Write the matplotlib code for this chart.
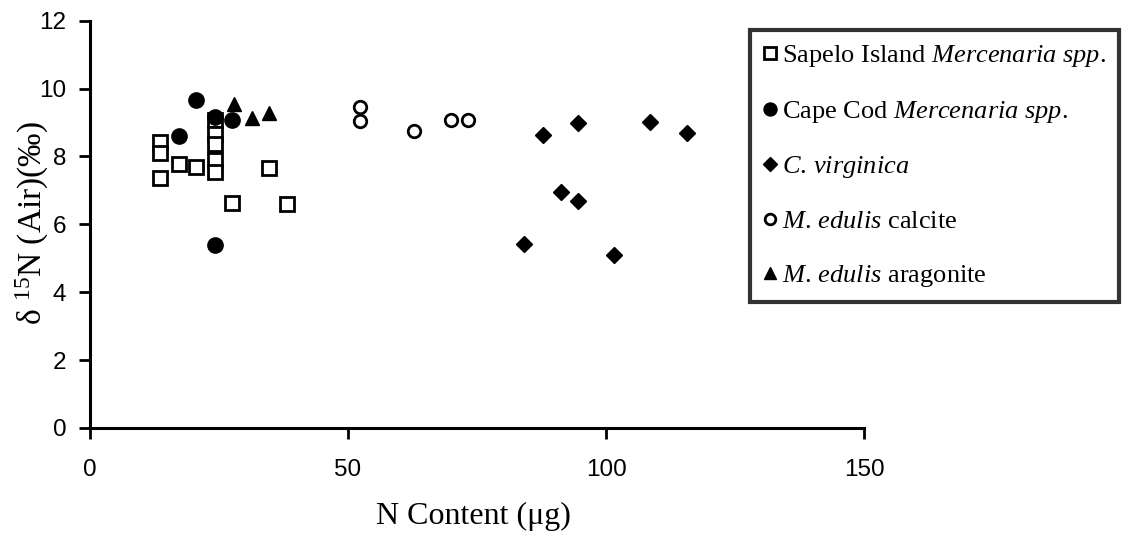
import matplotlib
matplotlib.use("Agg")
import matplotlib.pyplot as plt

plt.rcParams['mathtext.fontset'] = 'custom'
plt.rcParams['mathtext.rm'] = 'Liberation Serif'
plt.rcParams['mathtext.it'] = 'Liberation Serif:italic'

# Sapelo Island Mercenaria spp.
sapelo_x = [13.6, 13.6, 13.6, 17.2, 20.5, 24.2, 24.2, 24.2, 24.2, 24.2, 27.5, 34.7, 38.1]
sapelo_y = [8.43, 8.11, 7.36, 7.78, 7.68, 9.08, 8.67, 8.36, 7.89, 7.55, 6.63, 7.67, 6.61]
# Cape Cod Mercenaria spp.
capecod_x = [20.5, 17.2, 24.2, 27.5, 24.2]
capecod_y = [9.67, 8.60, 9.16, 9.08, 5.39]
# C. virginica
virg_x = [87.7, 94.6, 108.6, 115.7, 91.2, 94.6, 84.1, 101.6]
virg_y = [8.64, 9.00, 9.02, 8.70, 6.95, 6.68, 5.41, 5.11]
# M. edulis calcite
calc_x = [52.4, 52.4, 62.8, 69.9, 73.2]
calc_y = [9.47, 9.04, 8.75, 9.08, 9.08]
# M. edulis aragonite
arag_x = [27.9, 31.3, 34.7]
arag_y = [9.55, 9.14, 9.28]

labels = [
    r'Sapelo Island $\mathit{Mercenaria}$ $\mathit{spp.}$',
    r'Cape Cod $\mathit{Mercenaria}$ $\mathit{spp.}$',
    r'$\mathit{C.\,virginica}$',
    r'$\mathit{M.\,edulis}$ calcite',
    r'$\mathit{M.\,edulis}$ aragonite',
]

fig = plt.figure(figsize=(11.22, 5.37), dpi=100)
ax = fig.add_axes([90/1122, 1-428/537, (864-90)/1122, 407.3/537])

ax.plot(sapelo_x, sapelo_y, 's', ms=9.5, mfc='white', mec='black', mew=2, ls='none', label=labels[0])
ax.plot(capecod_x, capecod_y, 'o', ms=11, color='black', ls='none', label=labels[1])
ax.plot(virg_x, virg_y, 'D', ms=8, color='black', ls='none', label=labels[2])
ax.plot(calc_x, calc_y, 'o', ms=9, mfc='white', mec='black', mew=2, ls='none', label=labels[3])
ax.plot(arag_x, arag_y, '^', ms=10.5, color='black', ls='none', label=labels[4])

ax.set_xlim(0, 150)
ax.set_ylim(0, 12)
ax.set_xticks([0, 50, 100, 150])
ax.set_yticks(range(0, 13, 2))
ax.spines['top'].set_visible(False)
ax.spines['right'].set_visible(False)
for s in ['left', 'bottom']:
    ax.spines[s].set_linewidth(2.2)
ax.tick_params(direction='out', length=8, width=2, labelsize=17.5)
ax.tick_params(axis='x', pad=14)
ax.tick_params(axis='y', pad=9)
for t in ax.get_xticklabels() + ax.get_yticklabels():
    t.set_family('Liberation Sans')

ax.set_xlabel('N Content (μg)', family='Liberation Serif', fontsize=23)
ax.xaxis.set_label_coords(0.495, -0.182)
ax.set_ylabel(r'δ $^{15}$N (Air)(‰)', family='Liberation Serif', fontsize=24)
ax.yaxis.set_label_coords(-0.05, 0.503)

leg = ax.legend(loc='upper left', bbox_to_anchor=(750/1122, 1-30/537),
                bbox_transform=fig.transFigure, frameon=True, fancybox=False,
                prop={'family': 'Liberation Serif', 'size': 19},
                handlelength=0.5, handletextpad=0.2, labelspacing=1.12,
                borderpad=0.5, borderaxespad=0, markerscale=0.85)
leg.get_frame().set_edgecolor('black')
leg.get_frame().set_linewidth(3)

fig.savefig('out.png', dpi=100)
